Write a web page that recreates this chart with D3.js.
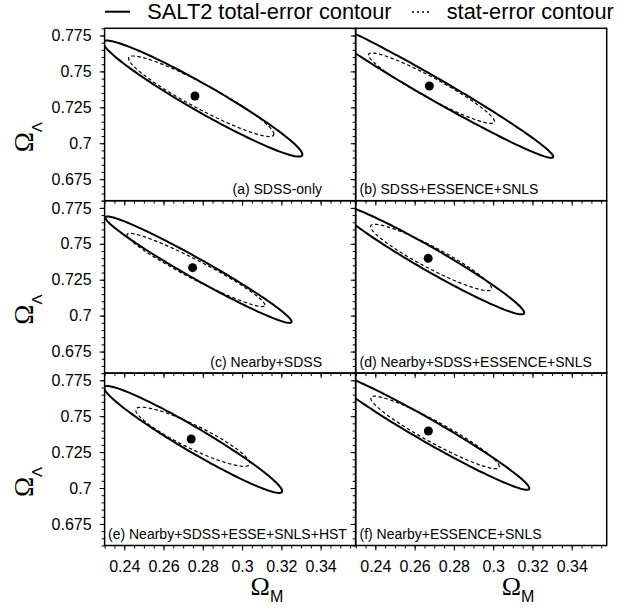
<!DOCTYPE html>
<html>
<head>
<meta charset="utf-8">
<script src="https://cdn.jsdelivr.net/npm/d3@7"></script>
<style>
  body { margin: 0; background: #fff; }
  text { font-family: "Liberation Sans", Arial, sans-serif; fill: #000; }
</style>
</head>
<body>
<div id="chart"></div>
<script>
/**
 * DATA
 * */
const panelLabels = [
  "(a) SDSS-only",
  "(b) SDSS+ESSENCE+SNLS",
  "(c) Nearby+SDSS",
  "(d) Nearby+SDSS+ESSENCE+SNLS",
  "(e) Nearby+SDSS+ESSE+SNLS+HST",
  "(f) Nearby+ESSENCE+SNLS"
];
// best-fit points
const fitOmegaM = [0.2760, 0.2675, 0.2748, 0.2669, 0.2741, 0.2670];
const fitOmegaL = [0.7329, 0.7398, 0.7334, 0.7399, 0.7341, 0.7397];
// total-error contour: centre, right-hand tip, half height (in Omega_L) at the centre
const totCenterM = [0.2800, 0.2688, 0.2778, 0.2678, 0.2751, 0.2670];
const totCenterL = [0.7311, 0.7389, 0.7320, 0.7392, 0.7338, 0.7398];
const totTipM = [0.3307, 0.3306, 0.3252, 0.3158, 0.3204, 0.3184];
const totTipL = [0.6922, 0.6906, 0.6958, 0.7020, 0.6979, 0.6998];
const totHalf = [0.0108, 0.0087, 0.0079, 0.0092, 0.0097, 0.0090];
// stat-error contour, same description
const statCenterM = [0.2792, 0.2686, 0.2765, 0.2684, 0.2749, 0.2704];
const statCenterL = [0.7327, 0.7383, 0.7318, 0.7405, 0.7357, 0.7387];
const statTipM = [0.3162, 0.3007, 0.3116, 0.2992, 0.3039, 0.3031];
const statTipL = [0.7064, 0.7151, 0.7074, 0.7190, 0.7172, 0.7149];
const statHalf = [0.0097, 0.0080, 0.0073, 0.0084, 0.0090, 0.0084];

const xTicks = [0.24, 0.26, 0.28, 0.30, 0.32, 0.34];
const xTickLabels = ["0.24", "0.26", "0.28", "0.3", "0.32", "0.34"];
const yTicks = [0.675, 0.7, 0.725, 0.75, 0.775];
const yTickLabels = ["0.675", "0.7", "0.725", "0.75", "0.775"];
const legendLabels = ["SALT2 total-error contour", "stat-error contour"];

/**
 * LAYOUT
 * */
const width = 636, height = 609;
const colX = [104.6, 355.7], panelW = 251;
const rowY = [28.3, 200.7, 373.1], panelH = 172.4;
const xDomain = [0.23, 0.3578], yDomain = [0.66, 0.78];
// where the panel caption sits: [x, anchor]
const captionPos = [[322, "end"], [359.5, "start"], [322, "end"], [359.5, "start"], [108, "start"], [359.5, "start"]];

const svg = d3.select("#chart").append("svg")
  .attr("width", width).attr("height", height);

// conjugate-diameter ellipse: c + u cos t + v sin t, v vertical
function contour(cm, cl, tm, tl, h, x, y) {
  const pts = d3.range(0, 361, 2).map(a => {
    const t = a * Math.PI / 180;
    return [x(cm + (tm - cm) * Math.cos(t)), y(cl + (tl - cl) * Math.cos(t) + h * Math.sin(t))];
  });
  return d3.line()(pts) + "Z";
}

const minorX = d3.range(0.23, 0.358, 0.005);
const minorY = d3.range(0.66, 0.7801, 0.005);

panelLabels.forEach((label, i) => {
  const col = i % 2, row = Math.floor(i / 2);
  const x0 = colX[col], y0 = rowY[row];
  const x = d3.scaleLinear().domain(xDomain).range([x0, x0 + panelW]);
  const y = d3.scaleLinear().domain(yDomain).range([y0 + panelH, y0]);

  const g = svg.append("g").attr("class", "panel");

  const clipId = "clip" + i;
  svg.append("clipPath").attr("id", clipId)
    .append("rect").attr("x", x0).attr("y", y0).attr("width", panelW).attr("height", panelH);

  // axes (ticks point outward)
  g.append("g").attr("transform", `translate(0,${y0 + panelH})`)
    .call(d3.axisBottom(x).tickValues(xTicks).tickSize(5).tickPadding(10)
      .tickFormat((d, k) => row === 2 ? xTickLabels[k] : ""));
  g.append("g").attr("transform", `translate(0,${y0 + panelH})`)
    .call(d3.axisBottom(x).tickValues(minorX).tickSize(3).tickFormat(""));
  g.append("g").attr("transform", `translate(${x0},0)`)
    .call(d3.axisLeft(y).tickValues(yTicks).tickSize(5).tickPadding(8)
      .tickFormat((d, k) => col === 0 ? yTickLabels[k] : ""));
  g.append("g").attr("transform", `translate(${x0},0)`)
    .call(d3.axisLeft(y).tickValues(minorY).tickSize(3).tickFormat(""));
  g.selectAll(".domain").remove();
  g.selectAll(".tick line").attr("stroke", "#000").attr("stroke-width", 1);
  g.selectAll(".tick text").attr("font-size", 16).attr("fill", "#000")
    .attr("font-family", "'Liberation Sans', Arial, sans-serif");

  const plot = g.append("g").attr("clip-path", `url(#${clipId})`);
  plot.append("path")
    .attr("d", contour(totCenterM[i], totCenterL[i], totTipM[i], totTipL[i], totHalf[i], x, y))
    .attr("fill", "none").attr("stroke", "#000").attr("stroke-width", 2);
  plot.append("path")
    .attr("d", contour(statCenterM[i], statCenterL[i], statTipM[i], statTipL[i], statHalf[i], x, y))
    .attr("fill", "none").attr("stroke", "#000").attr("stroke-width", 1.2)
    .attr("stroke-dasharray", "3.5,2.5");
  plot.append("circle")
    .attr("cx", x(fitOmegaM[i])).attr("cy", y(fitOmegaL[i])).attr("r", 4.5)
    .attr("fill", "#000");

  g.append("text")
    .attr("x", captionPos[i][0]).attr("y", y0 + panelH - 6.5)
    .attr("text-anchor", captionPos[i][1])
    .attr("font-size", 14)
    .text(label);

  g.append("rect")
    .attr("x", x0).attr("y", y0).attr("width", panelW).attr("height", panelH)
    .attr("fill", "none").attr("stroke", "#000").attr("stroke-width", 1.5);

  // axis titles
  if (row === 2) {
    const t = g.append("text").attr("x", x0 + 146).attr("y", 595);
    t.append("tspan").attr("font-family", "'Liberation Serif', 'Times New Roman', serif")
      .attr("font-size", 26).text("Ω");
    t.append("tspan").attr("font-size", 16).attr("dy", 7).text("M");
  }
  if (col === 0) {
    const t = g.append("text")
      .attr("transform", `translate(33,${y0 + 124}) rotate(-90)`);
    t.append("tspan").attr("font-family", "'Liberation Serif', 'Times New Roman', serif")
      .attr("font-size", 27).text("Ω");
    t.append("tspan").attr("font-size", 15).attr("dy", 9).text("Λ");
  }
});

// legend
const legend = svg.append("g").attr("class", "legend");
legend.append("line").attr("x1", 105).attr("x2", 130).attr("y1", 11.7).attr("y2", 11.7)
  .attr("stroke", "#000").attr("stroke-width", 2);
legend.append("text").attr("x", 147.3).attr("y", 18.5).attr("font-size", 21.8).text(legendLabels[0]);
legend.append("line").attr("x1", 412).attr("x2", 431).attr("y1", 12).attr("y2", 12)
  .attr("stroke", "#000").attr("stroke-width", 1.3).attr("stroke-dasharray", "2,3");
legend.append("text").attr("x", 446.7).attr("y", 18.5).attr("font-size", 21.8).text(legendLabels[1]);
</script>
</body>
</html>
